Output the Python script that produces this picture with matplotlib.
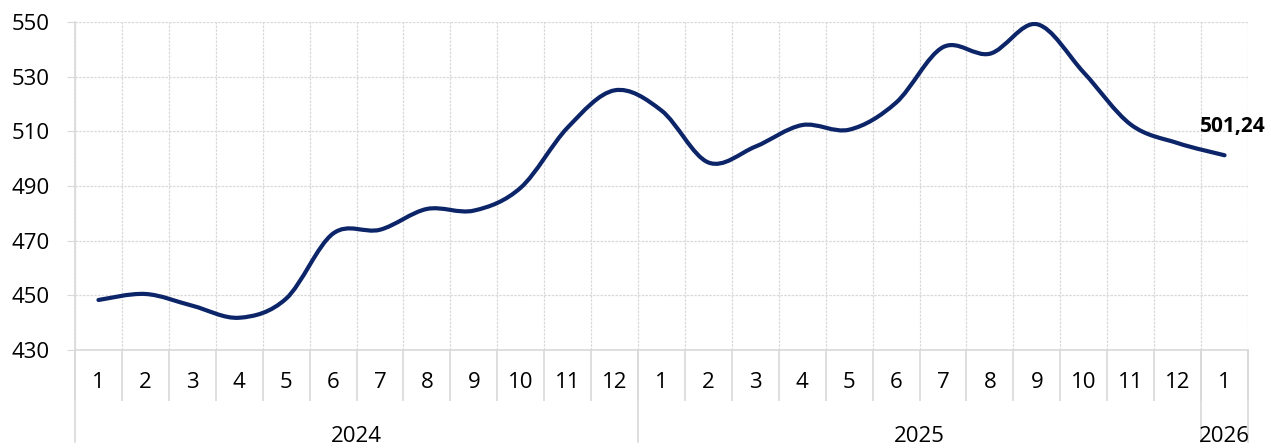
import matplotlib
matplotlib.use("Agg")
from matplotlib import pyplot as plt
from matplotlib.path import Path
from matplotlib.patches import PathPatch
import numpy as np

# monthly values, Jan 2024 .. Jan 2026
months = ["1", "2", "3", "4", "5", "6", "7", "8", "9", "10", "11", "12",
          "1", "2", "3", "4", "5", "6", "7", "8", "9", "10", "11", "12",
          "1"]
years = ["2024", "2025", "2026"]
year_counts = [12, 12, 1]
values = [448.3, 450.5, 446.2, 441.8, 448.8, 472.6, 474.0, 481.6, 481.0, 489.4,
          511.4, 525.0, 517.6, 498.6, 504.4, 512.3, 510.6, 520.5, 540.8, 538.4,
          549.2, 531.5, 512.5, 505.7, 501.24]
last_label = "501,24"

line_col = "#0c2468"
grid_col = "#d9d9d9"
plt.rcParams['font.family'] = ['Open Sans', 'DejaVu Sans']

fig = plt.figure(figsize=(12.71, 4.48), dpi=100)
ax = fig.add_axes([75 / 1271, 1 - 350 / 448, (1248 - 75) / 1271, 328 / 448])

n = len(values)
xs = np.arange(n) + 0.5
ys = np.array(values)

# smoothed line like a spreadsheet chart (cubic bezier through the points)
verts = [(xs[0], ys[0])]
codes = [Path.MOVETO]
for i in range(n - 1):
    p0 = np.array([xs[max(i - 1, 0)], ys[max(i - 1, 0)]])
    p1 = np.array([xs[i], ys[i]])
    p2 = np.array([xs[i + 1], ys[i + 1]])
    p3 = np.array([xs[min(i + 2, n - 1)], ys[min(i + 2, n - 1)]])
    c1 = p1 + (p2 - p0) / 6
    c2 = p2 - (p3 - p1) / 6
    verts += [tuple(c1), tuple(c2), tuple(p2)]
    codes += [Path.CURVE4] * 3
ax.add_patch(PathPatch(Path(verts, codes), facecolor="none", edgecolor=line_col,
                       lw=3.0, capstyle="round", joinstyle="round", zorder=3))

ax.annotate(last_label, (xs[-1], ys[-1]), xytext=(6, 13), textcoords="offset points",
            ha="center", va="bottom", fontsize=15, fontweight="bold", color="black")

ax.set_xlim(0, n)
ax.set_ylim(430, 550)
ax.set_yticks(np.arange(430, 551, 20))
ax.tick_params(axis="y", length=6, color=grid_col, labelsize=16, pad=12)

ax.set_xticks(xs)
ax.set_xticklabels(months)
ax.tick_params(axis="x", which="major", length=0, labelsize=16, pad=16)
ax.set_xticks(np.arange(n + 1), minor=True)
ax.tick_params(axis="x", which="minor", length=37, width=1.2, color=grid_col)

ax.grid(axis="y", color=grid_col, ls=(0, (2, 1)), lw=0.9)
ax.grid(axis="x", which="minor", color=grid_col, ls=(0, (2, 1)), lw=0.9)
ax.set_axisbelow(True)

for s in ["top", "right"]:
    ax.spines[s].set_visible(False)
for s in ["left", "bottom"]:
    ax.spines[s].set_color(grid_col)
    ax.spines[s].set_linewidth(1.2)

# year level of the category axis
tr = ax.get_xaxis_transform()
start = 0
bounds = [0]
for yr, cnt in zip(years, year_counts):
    ax.text(start + cnt / 2, -0.265, yr, transform=tr, ha="center", va="center",
            fontsize=16)
    start += cnt
    bounds.append(start)
for b in bounds:
    ax.plot([b, b], [0, -0.28], transform=tr, color=grid_col, lw=1.2, clip_on=False)

fig.savefig("out.png", dpi=100)
